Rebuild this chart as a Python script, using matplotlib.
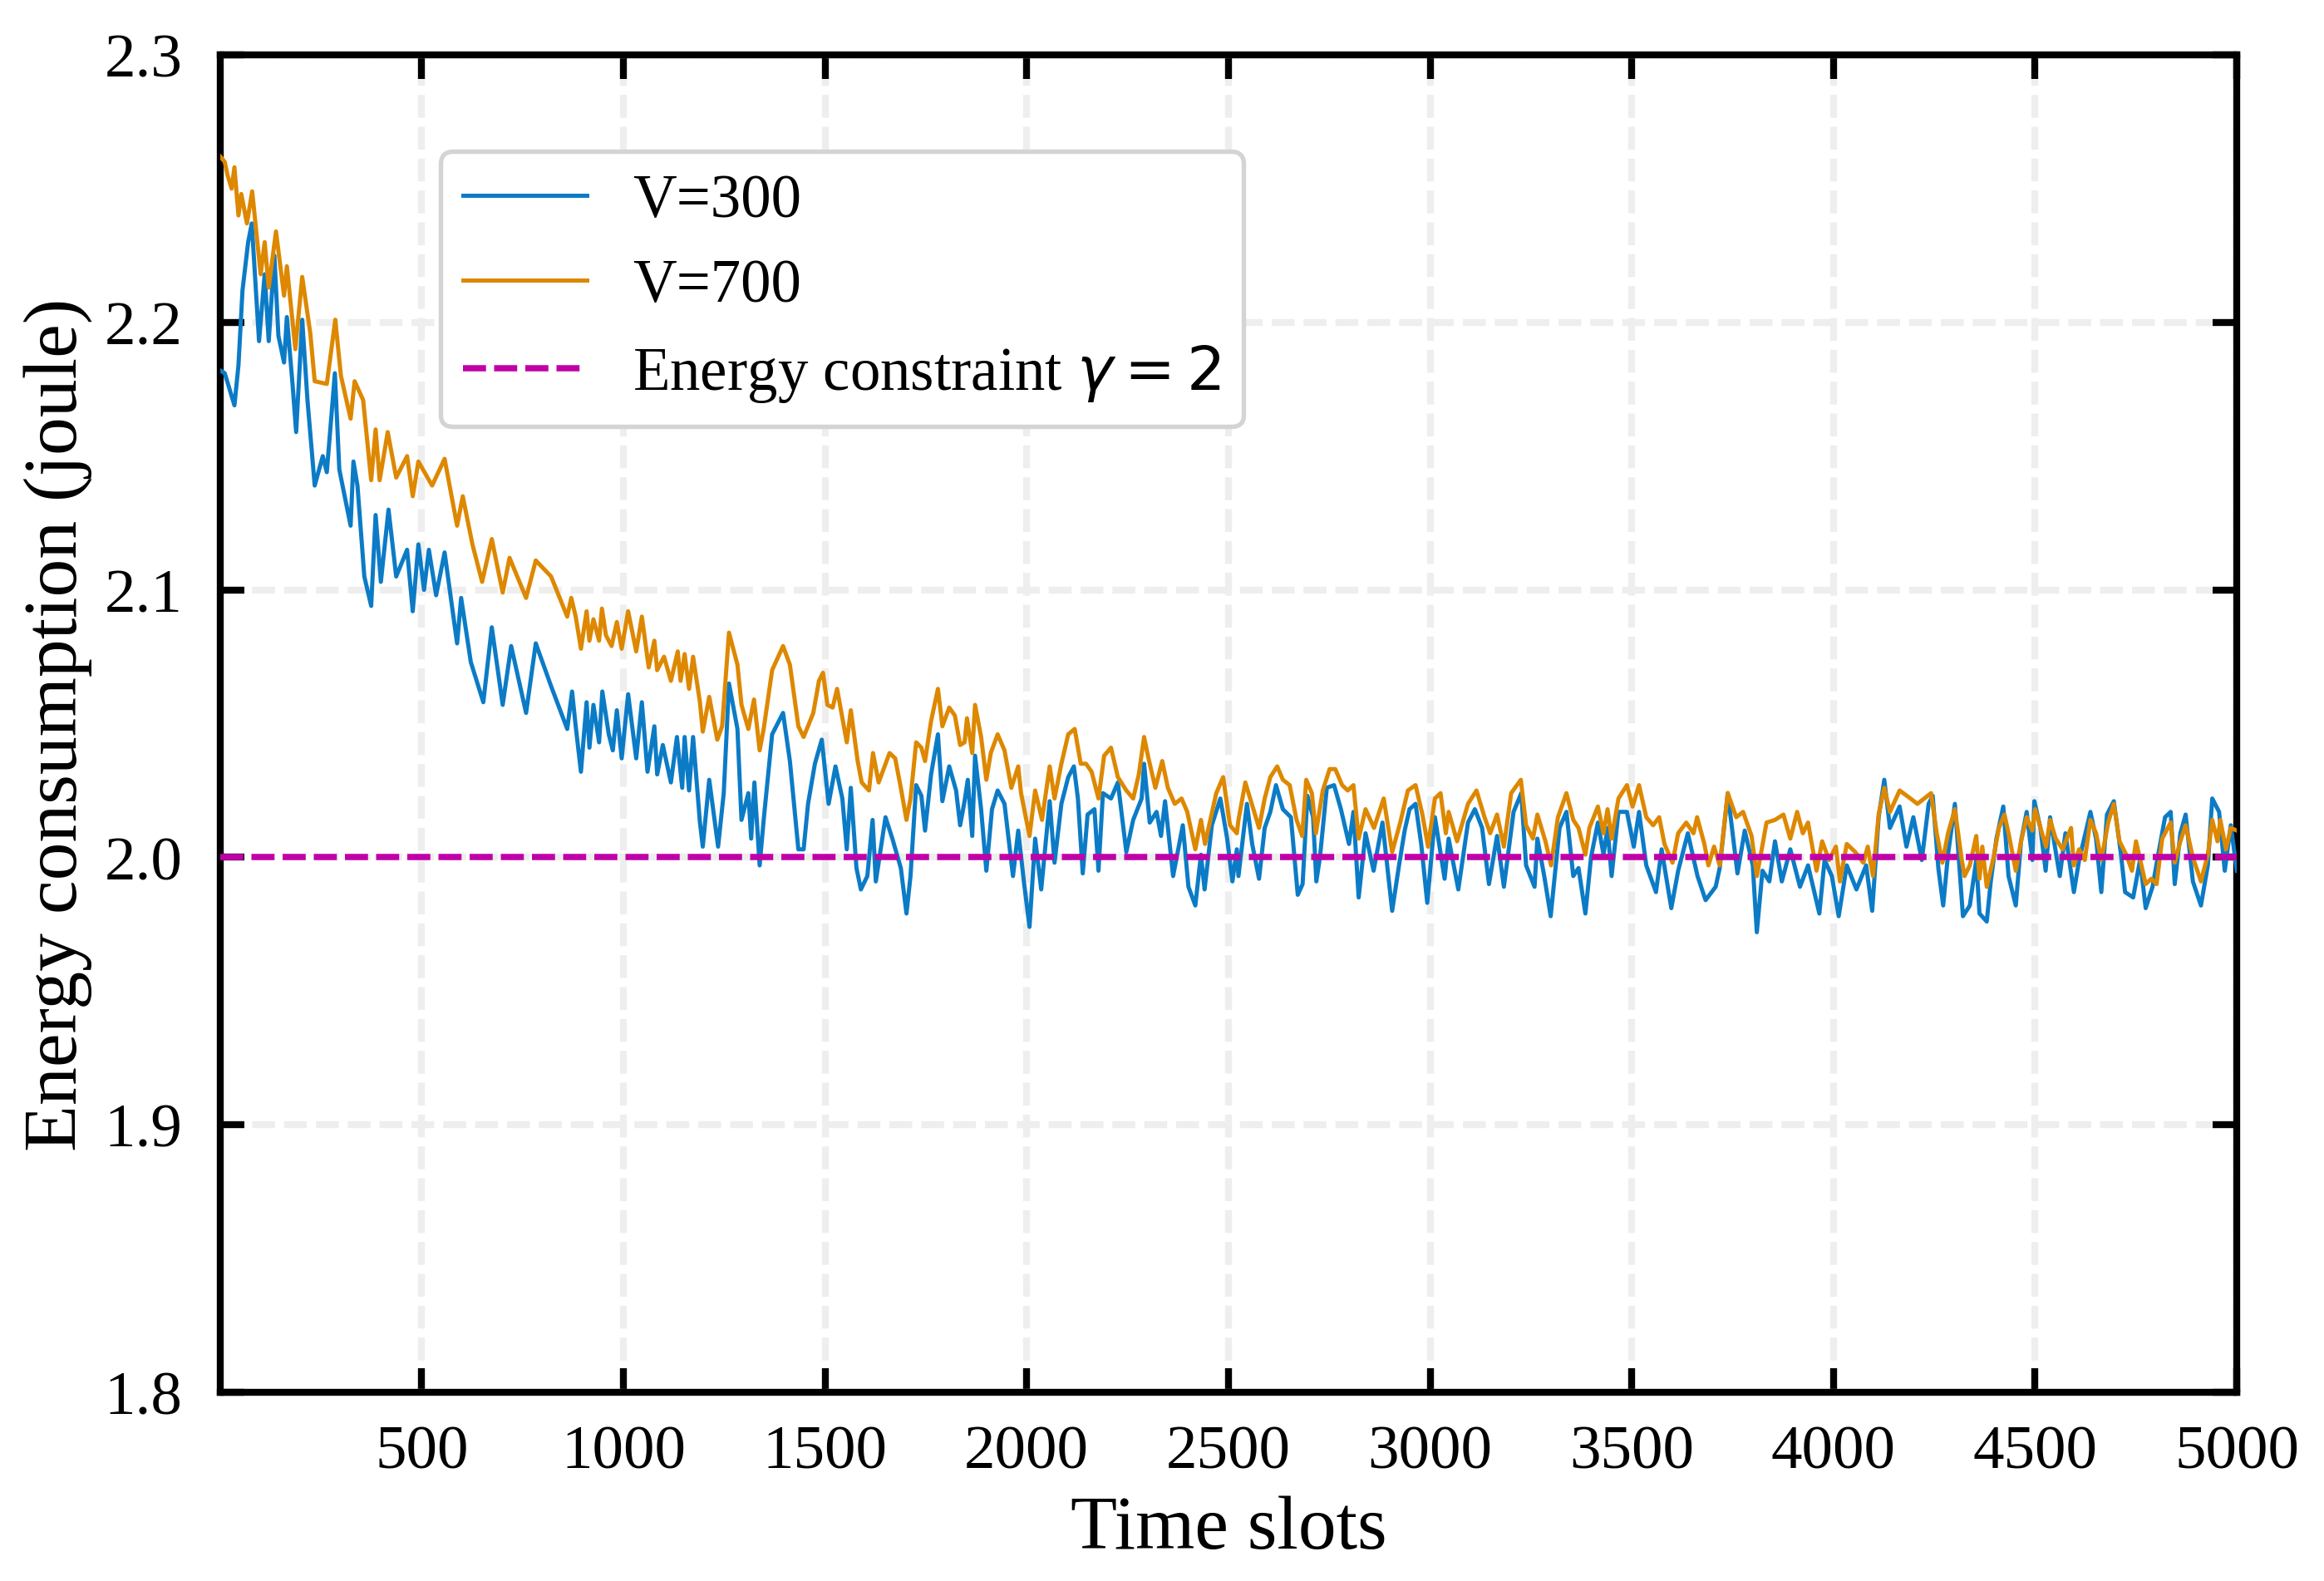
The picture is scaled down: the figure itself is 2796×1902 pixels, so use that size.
import matplotlib
matplotlib.use('Agg')
import matplotlib.pyplot as plt
import numpy as np

# V=300 series: time slot, energy (joule)
t_v300 = [1, 12, 36, 46, 56, 70, 79, 97, 111, 121, 135, 145, 159, 166, 180, 189, 204, 217, 235,
          255, 265, 285, 296, 324, 331, 341, 358, 375, 386, 399, 418, 437, 464, 478, 492, 506, 518,
          536, 557, 588, 598, 622, 653, 674, 701, 722, 759, 783, 821,
          861, 873, 882, 895, 909, 916, 926, 940, 948, 964, 974, 984, 996, 1012, 1032, 1046, 1060,
          1077, 1084, 1098, 1118, 1133, 1146, 1152, 1163, 1173, 1190, 1197, 1213, 1235, 1249, 1262,
          1283, 1293, 1310, 1317, 1325, 1338, 1348, 1369, 1396, 1413, 1434, 1447, 1458, 1475, 1492,
          1509, 1526, 1543, 1554, 1564, 1578, 1589, 1605, 1618, 1626, 1650, 1667,
          1688, 1702, 1712, 1726, 1739, 1748, 1763, 1780, 1791, 1808, 1825, 1835, 1846, 1854, 1865,
          1872, 1887, 1900, 1914, 1928, 1945, 1966, 1979, 1993, 2007, 2021, 2036, 2057, 2069, 2086,
          2103, 2117, 2127, 2139, 2151, 2168, 2178, 2189, 2209, 2226, 2247, 2264, 2285, 2291, 2305,
          2322, 2333, 2343, 2363, 2387, 2401, 2418, 2432, 2441, 2459, 2480, 2497, 2510, 2521,
          2525, 2546, 2559, 2576, 2590, 2604, 2618, 2635, 2655, 2672, 2684, 2696, 2710, 2718, 2727,
          2744, 2762, 2779, 2799, 2810, 2823, 2840, 2860, 2882, 2906, 2923, 2937, 2949, 2964, 2978,
          2993, 3012, 3036, 3046, 3070, 3094, 3111, 3129, 3146, 3166, 3183, 3207, 3226, 3238, 3259,
          3266, 3283, 3299, 3321, 3338, 3355,
          3368, 3385, 3399, 3416, 3430, 3440, 3450, 3467, 3488, 3505, 3518, 3536, 3560, 3574, 3598,
          3615, 3639, 3663, 3683, 3708, 3718, 3738, 3762, 3780, 3800, 3810, 3824, 3841, 3855, 3872,
          3893, 3917, 3937, 3965, 3978, 3996, 4013, 4033, 4057, 4081, 4096, 4112, 4126, 4140, 4164,
          4181, 4198, 4219,
          4236, 4246, 4260, 4272, 4284, 4301, 4321, 4338, 4354, 4362, 4380, 4390, 4404, 4421, 4434,
          4452, 4465, 4479, 4493, 4498, 4513, 4526, 4537, 4561, 4575, 4596, 4609, 4637, 4651, 4664,
          4678, 4695, 4712, 4723, 4743, 4760, 4774, 4791, 4805, 4822, 4836, 4846, 4860, 4873, 4891,
          4911, 4928, 4939, 4956, 4970, 4985, 5000]
e_v300 = [2.182, 2.181, 2.169, 2.184, 2.212, 2.230, 2.237, 2.193, 2.218, 2.193, 2.225, 2.195, 2.185,
          2.202, 2.177, 2.159, 2.201, 2.171, 2.139, 2.150, 2.144, 2.181, 2.145, 2.124, 2.148, 2.139,
          2.105, 2.094, 2.128, 2.103, 2.130, 2.105, 2.115, 2.092, 2.117, 2.100, 2.115, 2.098, 2.114,
          2.080, 2.097, 2.073, 2.058, 2.086, 2.057, 2.079, 2.054, 2.080, 2.064,
          2.048, 2.062, 2.049, 2.032, 2.058, 2.041, 2.057, 2.043, 2.062, 2.046, 2.040, 2.055, 2.037,
          2.061, 2.037, 2.058, 2.032, 2.049, 2.031, 2.042, 2.028, 2.045, 2.026, 2.045, 2.025, 2.045,
          2.013, 2.004, 2.029, 2.004, 2.024, 2.065, 2.048, 2.014, 2.024, 2.007, 2.028, 1.997, 2.014,
          2.046, 2.054, 2.036, 2.003, 2.003, 2.020, 2.035, 2.044, 2.020, 2.034, 2.022, 2.003, 2.026,
          1.996, 1.988, 1.993, 2.014, 1.991, 2.015, 2.007,
          1.996, 1.979, 1.993, 2.027, 2.023, 2.010, 2.031, 2.046, 2.021, 2.034, 2.025, 2.012, 2.021,
          2.029, 2.008, 2.038, 2.018, 1.995, 2.018, 2.025, 2.020, 1.993, 2.010, 1.991, 1.974, 2.007,
          1.988, 2.021, 1.998, 2.020, 2.030, 2.034, 2.022, 1.994, 2.016, 2.018, 1.995, 2.024, 2.022,
          2.028, 2.002, 2.014, 2.022, 2.035, 2.013, 2.017, 2.008, 2.021, 1.993, 2.012, 1.989, 1.982,
          2.001, 1.988, 2.012, 2.022, 2.007, 1.991, 2.003,
          1.993, 2.020, 2.005, 1.992, 2.011, 2.017, 2.027, 2.018, 2.015, 1.986, 1.990, 2.023, 2.015,
          1.991, 2.000, 2.026, 2.027, 2.018, 2.005, 2.017, 1.985, 2.009, 1.995, 2.013, 1.980, 1.997,
          2.010, 2.018, 2.020, 2.005, 1.983, 2.015, 1.992, 2.007, 1.988, 2.013, 2.018, 2.011, 1.990,
          2.008, 1.989, 2.017, 2.024, 1.997, 1.989, 2.007, 1.993, 1.978, 2.011, 2.017, 1.993,
          1.996, 1.979, 2.000, 2.013, 2.001, 2.011, 1.993, 2.017, 2.017, 2.004, 2.017, 1.997, 1.987,
          2.003, 1.981, 1.995, 2.009, 1.993, 1.984, 1.989, 1.996, 2.024, 1.994, 2.010, 1.997, 1.972,
          1.995, 1.991, 2.006, 1.991, 2.003, 1.989, 1.997, 1.979, 1.999, 1.993, 1.978, 1.997, 1.988,
          1.997, 1.980, 2.015, 2.029, 2.011, 2.019, 2.004, 2.015, 1.999,
          2.020, 2.023, 1.996, 1.982, 2.001, 2.020, 1.978, 1.982, 1.999, 1.979, 1.976, 1.991, 2.007,
          2.019, 1.993, 1.982, 2.006, 2.017, 1.999, 2.021, 2.011, 1.995, 2.015, 1.993, 2.009, 1.987,
          1.999, 2.017, 2.007, 1.987, 2.016, 2.021, 2.002, 1.987, 1.985, 1.999, 1.981, 1.989, 2.001,
          2.015, 2.017, 1.990, 2.009, 2.016, 1.991, 1.982, 1.997, 2.022, 2.017, 1.995, 2.012, 1.995]

# V=700 series: time slot, energy (joule)
t_v700 = [1, 12, 19, 29, 36, 46, 53, 67, 80, 101, 111, 121, 139, 159, 166, 187, 204, 224, 235, 265,
          286, 300, 324, 334, 355, 375, 386, 396, 416, 437, 464, 478, 492, 526, 557, 588, 602, 626,
          650, 674, 701, 718, 759, 783, 821,
          861, 871, 882, 895, 909, 916, 926, 940, 947, 957, 971, 984, 996, 1012, 1032, 1046, 1063,
          1077, 1084, 1101, 1118, 1135, 1142, 1152, 1163, 1173, 1190, 1197, 1213, 1233, 1245, 1262,
          1283, 1293, 1310, 1324, 1338, 1348, 1369, 1396, 1413, 1434, 1447, 1471, 1485, 1495, 1506,
          1519, 1530, 1554, 1564, 1581, 1591, 1609, 1619, 1633, 1660, 1674,
          1688, 1702, 1712, 1726, 1739, 1748, 1763, 1780, 1791, 1808, 1822, 1835, 1846, 1852, 1865,
          1872, 1887, 1900, 1911, 1928, 1945, 1962, 1979, 1986, 2007, 2021, 2038, 2057, 2069, 2086,
          2103, 2119, 2134, 2147, 2161, 2178, 2192, 2209, 2226, 2247, 2264, 2278, 2291, 2302, 2319,
          2336, 2350, 2367, 2384, 2398, 2418, 2432, 2442, 2470, 2487, 2504, 2521,
          2525, 2542, 2556, 2576, 2590, 2604, 2621, 2635, 2652, 2669, 2683, 2693, 2707, 2717, 2734,
          2751, 2765, 2782, 2796, 2810, 2823, 2840, 2861, 2885, 2906, 2926, 2945, 2964, 2981, 2995,
          3012, 3026, 3039, 3046, 3067, 3094, 3115, 3135, 3149, 3166, 3183, 3201, 3225, 3238, 3255,
          3266, 3286, 3300, 3317, 3338, 3355,
          3368, 3385, 3395, 3416, 3430, 3440, 3450, 3467, 3488, 3502, 3518, 3536, 3553, 3568, 3581,
          3601, 3615, 3635, 3653, 3662, 3680, 3690, 3704, 3718, 3738, 3759, 3776, 3797, 3810, 3821,
          3834, 3855, 3876, 3893, 3910, 3924, 3937, 3958, 3972, 3989, 4006, 4016, 4033, 4054, 4074,
          4085, 4098, 4112, 4126, 4140, 4164, 4191, 4208,
          4242, 4256, 4270, 4284, 4301, 4318, 4325, 4338, 4354, 4362, 4369, 4380, 4397, 4410, 4424,
          4434, 4452, 4465, 4479, 4493, 4500, 4517, 4527, 4537, 4551, 4568, 4589, 4596, 4609, 4623,
          4637, 4651, 4664, 4681, 4695, 4709, 4726, 4740, 4750, 4774, 4788, 4801, 4815, 4836, 4846,
          4860, 4873, 4891, 4911, 4928, 4939, 4952, 4959, 4973, 4985, 5000]
e_v700 = [2.262, 2.260, 2.255, 2.250, 2.258, 2.240, 2.248, 2.237, 2.249, 2.218, 2.230, 2.213, 2.234,
          2.210, 2.221, 2.190, 2.217, 2.196, 2.178, 2.177, 2.201, 2.180, 2.164, 2.178, 2.171, 2.141,
          2.160, 2.141, 2.159, 2.142, 2.150, 2.135, 2.148, 2.139, 2.149, 2.124, 2.135, 2.117, 2.103,
          2.119, 2.099, 2.112, 2.097, 2.111, 2.105,
          2.090, 2.097, 2.090, 2.078, 2.092, 2.081, 2.089, 2.081, 2.093, 2.083, 2.079, 2.088, 2.078,
          2.092, 2.077, 2.090, 2.071, 2.081, 2.070, 2.075, 2.066, 2.077, 2.066, 2.076, 2.063, 2.075,
          2.058, 2.047, 2.060, 2.044, 2.049, 2.084, 2.072, 2.057, 2.048, 2.059, 2.040, 2.048, 2.070,
          2.079, 2.072, 2.049, 2.045, 2.054, 2.066, 2.069, 2.057, 2.056, 2.063, 2.043, 2.055, 2.036,
          2.028, 2.025, 2.039, 2.028, 2.039, 2.037,
          2.026, 2.014, 2.022, 2.043, 2.041, 2.036, 2.051, 2.063, 2.049, 2.056, 2.053, 2.042, 2.043,
          2.052, 2.039, 2.057, 2.045, 2.029, 2.039, 2.046, 2.040, 2.026, 2.034, 2.024, 2.008, 2.025,
          2.014, 2.034, 2.022, 2.035, 2.046, 2.048, 2.035, 2.035, 2.032, 2.022, 2.038, 2.041, 2.030,
          2.025, 2.022, 2.031, 2.045, 2.037, 2.026, 2.036, 2.026, 2.020, 2.022, 2.017, 2.003, 2.014,
          2.005, 2.024, 2.030, 2.012, 2.009,
          2.014, 2.028, 2.021, 2.011, 2.022, 2.030, 2.034, 2.029, 2.027, 2.014, 2.008, 2.029, 2.024,
          2.009, 2.025, 2.033, 2.033, 2.027, 2.025, 2.027, 2.007, 2.018, 2.011, 2.022, 2.002, 2.013,
          2.025, 2.027, 2.016, 2.004, 2.022, 2.024, 2.009, 2.017, 2.006, 2.020, 2.025, 2.015, 2.009,
          2.016, 2.004, 2.024, 2.029, 2.012, 2.007, 2.016, 2.006, 1.997, 2.015, 2.024, 2.014,
          2.011, 2.001, 2.011, 2.019, 2.009, 2.018, 2.007, 2.022, 2.027, 2.019, 2.027, 2.015, 2.012,
          2.015, 2.005, 1.998, 2.009, 2.013, 2.009, 2.015, 2.005, 1.997, 2.004, 1.997, 2.024, 2.015,
          2.017, 2.008, 1.993, 2.002, 2.013, 2.014, 2.016, 2.007, 2.017, 2.009, 2.013, 1.995, 2.006,
          1.999, 2.004, 1.991, 2.005, 2.002, 1.998, 2.004, 1.993, 2.016, 2.026, 2.017, 2.025, 2.022,
          2.020,
          2.024, 2.009, 1.998, 2.009, 2.018, 1.999, 1.993, 1.997, 2.008, 1.992, 2.004, 1.989, 2.000,
          2.011, 2.016, 2.009, 1.995, 2.006, 2.015, 2.010, 2.018, 2.009, 2.004, 2.014, 2.007, 2.003,
          2.011, 1.997, 2.003, 1.999, 2.014, 2.009, 1.999, 2.013, 2.020, 2.006, 2.001, 1.995, 2.006,
          1.990, 1.992, 1.990, 2.007, 2.013, 1.998, 2.006, 2.012, 2.000, 1.991, 2.001, 2.014, 2.006,
          2.014, 2.003, 2.011, 2.010]

gamma = 2.0
x_ticks = [500, 1000, 1500, 2000, 2500, 3000, 3500, 4000, 4500, 5000]
y_ticks = [1.8, 1.9, 2.0, 2.1, 2.2, 2.3]

plt.rcParams['font.family'] = ['Liberation Serif', 'DejaVu Serif']
plt.rcParams['mathtext.fontset'] = 'dejavusans'

fig = plt.figure(figsize=(9.32, 6.343), dpi=300)
ax = fig.add_axes([0.0948, 0.1193, 0.8677, 0.8455])

ax.plot(t_v300, e_v300, color='#0C7BC6', lw=1.2, label='V=300', zorder=3)
ax.plot(t_v700, e_v700, color='#DD8800', lw=1.2, label='V=700', zorder=4)
ax.axhline(gamma, color='#C000A8', lw=1.8, ls=(0, (3.7, 1.3)),
           label=r'Energy constraint $\gamma = 2$', zorder=5)

ax.set_xlim(1, 5000)
ax.set_ylim(1.8, 2.3)
ax.set_xticks(x_ticks)
ax.set_yticks(y_ticks)
ax.set_yticklabels(['%.1f' % v for v in y_ticks])

ax.grid(True, color='#eeeeee', lw=2.0, ls=(0, (3.3, 1.3)), zorder=0)
ax.set_axisbelow(True)

for s in ax.spines.values():
    s.set_linewidth(2.0)
ax.tick_params(which='major', direction='in', length=7, width=2.0,
               top=True, right=True, labelsize=18)
ax.tick_params(axis='x', pad=9.5)
ax.tick_params(axis='y', pad=11)

ax.set_xlabel('Time slots', fontsize=22, labelpad=4)
ax.set_ylabel('Energy consumption (joule)', fontsize=22, labelpad=3.5)

leg = ax.legend(loc='upper left', bbox_to_anchor=(0.1092, 0.928), borderaxespad=0,
                fontsize=17.5, frameon=True, fancybox=True, edgecolor='#d4d4d4',
                framealpha=1.0, handlelength=2.05, handletextpad=0.75, labelspacing=0.47,
                borderpad=0.37)
leg.get_frame().set_linewidth(1.3)

plt.savefig('out.png', dpi=300)
